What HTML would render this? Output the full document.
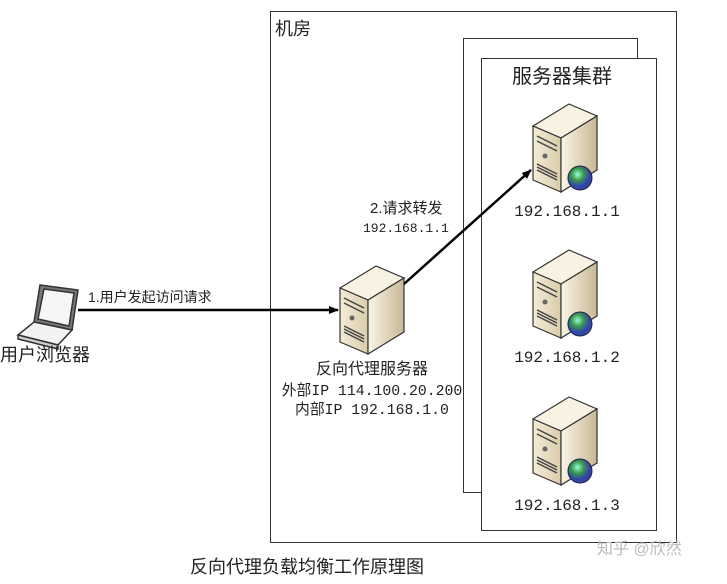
<!DOCTYPE html>
<html><head><meta charset="utf-8"><style>
html,body{margin:0;padding:0;background:#fff;}
svg text{font-family:"Liberation Sans","Noto Sans CJK SC",sans-serif;fill:#222;}
.m{font-family:"Liberation Mono","Noto Sans CJK SC",monospace;}
</style></head><body>
<svg width="727" height="579" viewBox="0 0 727 579" xmlns="http://www.w3.org/2000/svg">
<defs>
<linearGradient id="gf" x1="0" x2="1"><stop offset="0" stop-color="#f4ecd6"/><stop offset="1" stop-color="#d9ccaa"/></linearGradient>
<linearGradient id="gs" x1="0" x2="1"><stop offset="0" stop-color="#faf5e6"/><stop offset="1" stop-color="#c8b894"/></linearGradient>
<radialGradient id="gg" cx="0.4" cy="0.35"><stop offset="0" stop-color="#9fd"/><stop offset="0.5" stop-color="#3a9a4a"/><stop offset="1" stop-color="#3344aa"/></radialGradient>
<g id="srv">
<polygon points="0,22 36,0 64,12 28,34" fill="#f7f2e2" stroke="#333" stroke-width="1.2"/>
<polygon points="0,22 28,34 28,88 0,76" fill="url(#gf)" stroke="#333" stroke-width="1.2"/>
<polygon points="28,34 64,12 64,66 28,88" fill="url(#gs)" stroke="#333" stroke-width="1.2"/>
<path d="M4,32 L24,42 M4,37 L24,47 M4,60 L24,70 M4,63 L24,73 M4,66 L24,76" stroke="#444" stroke-width="1.5"/>
<circle cx="12" cy="52" r="2.5" fill="#666"/>
</g>
<g id="globe"><circle r="12" fill="url(#gg)" stroke="#224" stroke-width="1"/></g>
<marker id="ar" markerWidth="10" markerHeight="8" refX="9" refY="4" orient="auto" markerUnits="userSpaceOnUse"><polygon points="0,0 10,4 0,8" fill="#000"/></marker>
</defs>
<rect x="270.5" y="11.5" width="406" height="531" fill="none" stroke="#333"/>
<text x="275" y="35" font-size="18">机房</text>
<rect x="463.5" y="38.5" width="174" height="454" fill="#fff" stroke="#333"/>
<rect x="481.5" y="58.5" width="175" height="472" fill="#fff" stroke="#333"/>
<text x="512" y="83" font-size="20">服务器集群</text>
<use href="#srv" x="533" y="104"/>
<use href="#globe" x="580" y="178"/>
<text x="567" y="216" font-size="16" text-anchor="middle" class="m">192.168.1.1</text>
<use href="#srv" x="533" y="250"/>
<use href="#globe" x="580" y="324"/>
<text x="567" y="362" font-size="16" text-anchor="middle" class="m">192.168.1.2</text>
<use href="#srv" x="533" y="397"/>
<use href="#globe" x="580" y="471"/>
<text x="567" y="510" font-size="16" text-anchor="middle" class="m">192.168.1.3</text>
<use href="#srv" x="340" y="266"/>
<text x="372" y="374" font-size="16" text-anchor="middle">反向代理服务器</text>
<text x="372" y="395" font-size="14.8" text-anchor="middle" class="m">外部IP 114.100.20.200</text>
<text x="372" y="414" font-size="14.8" text-anchor="middle" class="m">内部IP 192.168.1.0</text>
<g stroke="#333" stroke-width="1.5">
<polygon points="40,285 78,290 72,330 34,322" fill="#777"/>
<polygon points="44,289 74,293 69,326 38,319" fill="#f4f6f8"/>
<polygon points="34,322 72,330 58,345 18,335" fill="#f2f2f2"/>
<polygon points="18,335 58,345 58,349 18,339" fill="#ccc"/>
</g>
<text x="0" y="361" font-size="18">用户浏览器</text>
<line x1="78" y1="310" x2="338" y2="310" stroke="#000" stroke-width="2.5" marker-end="url(#ar)"/>
<text x="88" y="302" font-size="14">1.用户发起访问请求</text>
<line x1="404" y1="284" x2="531" y2="170" stroke="#000" stroke-width="2.5" marker-end="url(#ar)"/>
<text x="370" y="213" font-size="15">2.请求转发</text>
<text x="363" y="232" font-size="13" class="m">192.168.1.1</text>
<text x="190" y="573" font-size="18">反向代理负载均衡工作原理图</text>
<text x="597" y="554" font-size="16" style="fill:#bbb">知乎 @欣然</text>
</svg>
</body></html>
